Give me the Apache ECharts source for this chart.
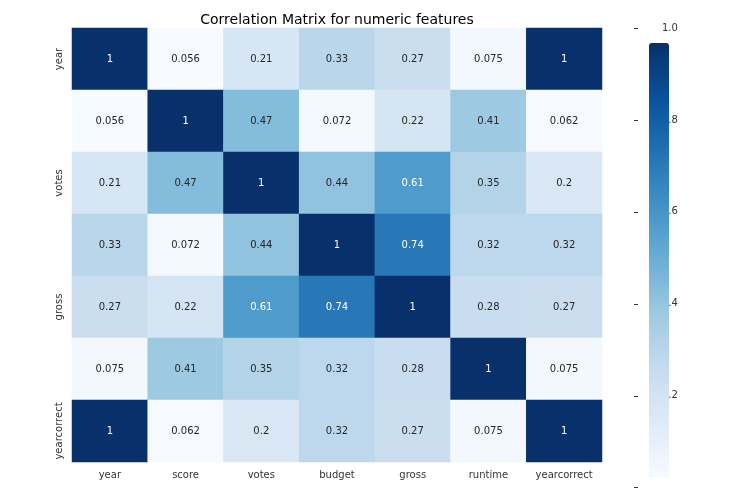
<!DOCTYPE html>
<html><head><meta charset="utf-8">
<script src="https://cdn.jsdelivr.net/npm/echarts@6/dist/echarts.min.js"></script>
<style>html,body{margin:0;background:#fff}#c{width:730px;height:492px}</style>
</head><body><div id="c"></div>
<script>
var features = ['year', 'score', 'votes', 'budget', 'gross', 'runtime', 'yearcorrect'];
var matrix = [
    [1, 0.056, 0.21, 0.33, 0.27, 0.075, 1],
    [0.056, 1, 0.47, 0.072, 0.22, 0.41, 0.062],
    [0.21, 0.47, 1, 0.44, 0.61, 0.35, 0.2],
    [0.33, 0.072, 0.44, 1, 0.74, 0.32, 0.32],
    [0.27, 0.22, 0.61, 0.74, 1, 0.28, 0.27],
    [0.075, 0.41, 0.35, 0.32, 0.28, 1, 0.075],
    [1, 0.062, 0.2, 0.32, 0.27, 0.075, 1]
];
var colorTicks = [0.2, 0.4, 0.6, 0.8, 1.0];

var data = [];
for (var i = 0; i < features.length; i++) {
    for (var j = 0; j < features.length; j++) {
        data.push([j, i, matrix[i][j]]);
    }
}
var font = 'DejaVu Sans';
var myChart = echarts.init(document.getElementById('c'));
var option = {
    backgroundColor: '#fff',
    animation: false,
    title: {
        text: 'Correlation Matrix for numeric features',
        left: 332, top: 8, textAlign: 'center',
        textStyle: { fontFamily: font, fontSize: 14, fontWeight: 'normal', color: '#000' }
    },
    grid: [
        { left: 72, top: 28, width: 530, height: 434 },
        { left: 634, top: 28, width: 20, height: 434 / 0.944 }
    ],
    xAxis: [
        { type: 'category', data: features, gridIndex: 0,
          axisLine: { show: false }, axisTick: { length: 4, lineStyle: { color: '#333' } },
          axisLabel: { fontFamily: font, fontSize: 10, color: '#333' }, splitLine: { show: false } },
        { type: 'value', gridIndex: 1, show: false }
    ],
    yAxis: [
        { type: 'category', data: features, inverse: true, gridIndex: 0,
          axisLine: { show: false }, axisTick: { length: 4, lineStyle: { color: '#333' } },
          axisLabel: { fontFamily: font, fontSize: 10, color: '#333', rotate: 90, margin: 8 } },
        { type: 'value', gridIndex: 1, position: 'right', min: 0, max: 1, interval: 0.2,
          axisLine: { show: false }, splitLine: { show: false },
          axisTick: { show: true, length: 4, lineStyle: { color: '#333' },
                      interval: function (i, v) { return colorTicks.indexOf(+v) >= 0; } },
          axisLabel: { fontFamily: font, fontSize: 10, color: '#333',
                       formatter: function (v) { return v === 0 ? '' : v.toFixed(1); } } }
    ],
    visualMap: {
        type: 'continuous', min: 0.056, max: 1, calculable: false, seriesIndex: 0,
        left: 634, top: 28, itemWidth: 20, itemHeight: 434, text: ['', ''],
        inRange: { color: ['#f7fbff', '#deebf7', '#c6dbef', '#9ecae1', '#6baed6', '#4292c6', '#2171b5', '#08519c', '#08306b'] }
    },
    series: [{
        type: 'heatmap', data: data,
        label: {
            show: true, fontFamily: font, fontSize: 10,
            formatter: function (p) { return String(p.value[2]); },
            color: '#262626'
        },
        itemStyle: { borderWidth: 0 }
    }]
};
// white labels on dark cells
option.series[0].data = data.map(function (d) {
    return { value: d, label: { color: d[2] > 0.6 ? '#fff' : '#262626' } };
});
myChart.setOption(option, true);
</script></body></html>
